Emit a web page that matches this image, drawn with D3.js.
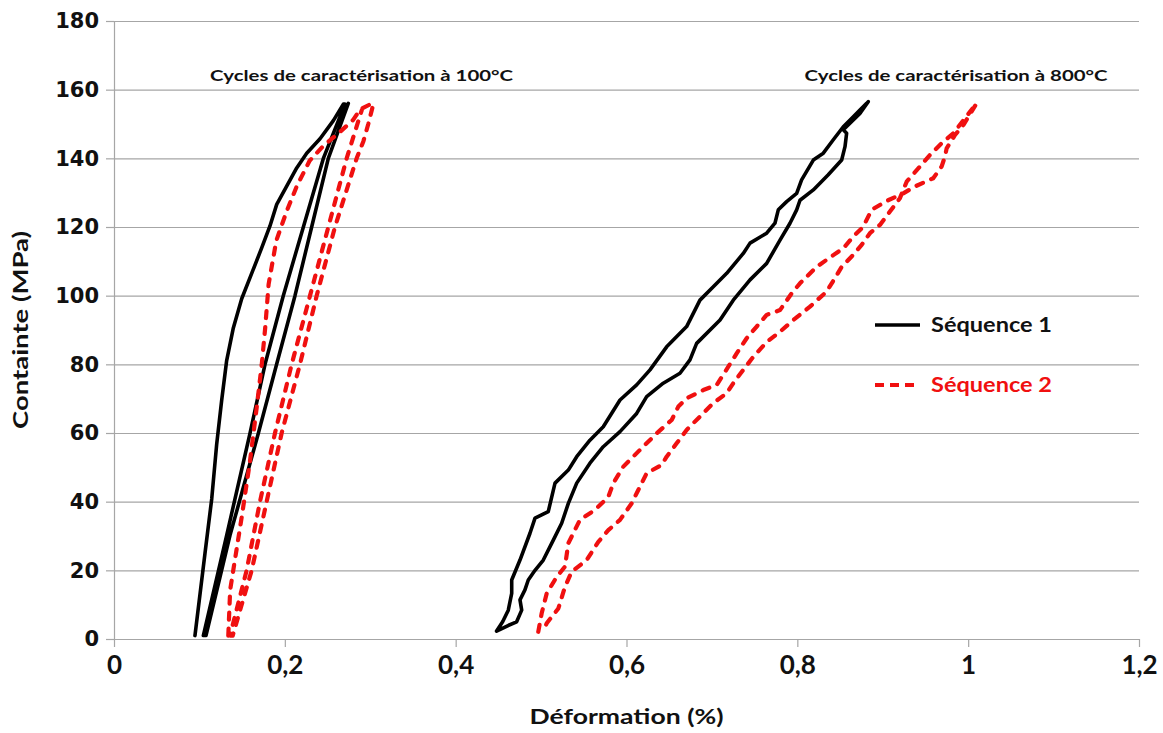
<!DOCTYPE html>
<html>
<head>
<meta charset="utf-8">
<script src="https://cdn.jsdelivr.net/npm/d3@7"></script>
<style>
  body { margin: 0; background: #fff; }
  svg { display: block; }
</style>
</head>
<body>
<div id="chart"></div>
<script>
var w = 1163;
var h = 733;

// axis ticks
var xTicks = [0, 0.2, 0.4, 0.6, 0.8, 1, 1.2];
var yTicks = [0, 20, 40, 60, 80, 100, 120, 140, 160, 180];

// [strain %, stress MPa]
// Sequence 1, cycles at 100°C
var seq1Cycle100 = [
  [0.0948, 1], [0.1065, 24.9], [0.1144, 40.8], [0.1202, 56.7], [0.126, 69.4], [0.1319, 81.1],
  [0.1397, 90.6], [0.1495, 99.1], [0.1612, 106.5], [0.1729, 113.9], [0.1826, 120.3], [0.1905, 126.6],
  [0.2022, 131.9], [0.2139, 137.2], [0.2256, 141.5], [0.2412, 145.7], [0.2568, 151], [0.2685, 155.8],
  [0.2704, 155.8], [0.245, 139.9], [0.2217, 120], [0.1982, 100], [0.1768, 80], [0.1592, 59.9],
  [0.1319, 30.2], [0.1046, 1],
  [0.1077, 1], [0.1358, 30.2], [0.169, 59.9], [0.1904, 80], [0.2119, 100], [0.2314, 120],
  [0.2509, 140], [0.2743, 156]
];

// Sequence 2, cycles at 100°C
var seq2Cycle100 = [
  [0.1338, 1], [0.136, 14.3], [0.1495, 35.5], [0.159, 51.4], [0.167, 67.3], [0.173, 80], [0.177, 90.6],
  [0.181, 103.3], [0.19, 116], [0.202, 124.5], [0.214, 131.9], [0.229, 139.3], [0.245, 143.6],
  [0.265, 147.8], [0.28, 151.2], [0.288, 154.2], [0.302, 156],
  [0.3036, 155.8], [0.2977, 150], [0.292, 145], [0.2841, 140], [0.2587, 120], [0.2373, 100],
  [0.2177, 80], [0.1963, 60], [0.1787, 40], [0.1612, 20], [0.139, 1],
  [0.1358, 1], [0.1553, 20], [0.1709, 40], [0.1885, 60], [0.208, 80], [0.2295, 100], [0.2509, 120],
  [0.2724, 140], [0.29, 154]
];

// Sequence 1, cycles at 800°C
var seq1Cycle800 = [
  [0.4479, 2.3], [0.455, 5], [0.4616, 8.4], [0.4656, 13.3], [0.4656, 17.2], [0.4753, 23], [0.487, 30.8],
  [0.4929, 35.2], [0.5084, 37.1], [0.5163, 45.4], [0.5319, 49.2], [0.5417, 53.1], [0.5572, 57.9],
  [0.5728, 61.8], [0.5924, 69.6], [0.6119, 74], [0.6275, 78.4], [0.647, 85.1], [0.6704, 91],
  [0.686, 98.7], [0.7016, 102.6], [0.7173, 106.5], [0.7367, 112.3], [0.7446, 115.3], [0.7641, 118.2],
  [0.7738, 121.1], [0.7777, 125], [0.7875, 127.4], [0.7992, 129.8], [0.805, 133.7], [0.8187, 139.5],
  [0.8304, 141.5], [0.8421, 145.4], [0.8538, 149.2], [0.8655, 152.1], [0.8753, 154.6], [0.8811, 156],
  [0.883, 156.5], [0.8733, 153.1], [0.8616, 150.2], [0.8538, 148.3], [0.8577, 147.3], [0.8558, 143.4],
  [0.8519, 139.5], [0.8362, 135.2], [0.8187, 130.8], [0.8031, 127.8], [0.7992, 125], [0.7914, 121.1],
  [0.7797, 116.2], [0.7641, 109.4], [0.7446, 104.6], [0.725, 98.7], [0.7095, 92.9], [0.6821, 86.1],
  [0.6743, 81.3], [0.6626, 77.4], [0.643, 74.5], [0.6236, 70.6], [0.6119, 65.7], [0.5924, 60.4],
  [0.5728, 56], [0.5572, 51.2], [0.5417, 45.4], [0.5319, 39.5], [0.5241, 33.7], [0.5143, 28.8],
  [0.5026, 23], [0.4929, 20], [0.485, 17.2], [0.4811, 14.3], [0.4753, 11.4], [0.4773, 8.4],
  [0.4714, 5], [0.462, 4], [0.4479, 2.3]
];

// Sequence 2, cycles at 800°C
var seq2Cycle800 = [
  [0.4967, 2.1], [0.5007, 7.5], [0.5066, 13.3], [0.5183, 18.1], [0.528, 21.1], [0.5319, 27.9],
  [0.5455, 34.7], [0.5631, 37.6], [0.5787, 41.4], [0.5846, 45.4], [0.5963, 50.2], [0.6158, 55.1],
  [0.6353, 59.9], [0.6529, 63.8], [0.6607, 67.7], [0.6704, 70.1], [0.6899, 72.5], [0.7056, 74],
  [0.7192, 79.3], [0.729, 83.2], [0.7407, 87.6], [0.7524, 91], [0.7641, 94.4], [0.7797, 95.8],
  [0.7934, 100.7], [0.8031, 103.6], [0.8226, 108.4], [0.8421, 111.8], [0.8538, 113.8], [0.8655, 117.2],
  [0.8772, 120.1], [0.887, 125], [0.9046, 127.6], [0.924, 129.8], [0.9377, 131.8], [0.9591, 134.2],
  [0.9689, 137.6], [0.9728, 140.5], [0.9748, 142.9], [0.9846, 146.8], [0.9943, 149.7], [1.0099, 156],
  [0.9963, 151.7], [0.9826, 147.3], [0.9689, 144.4], [0.9553, 141], [0.9435, 137.6], [0.928, 133.2],
  [0.9201, 128.4], [0.9084, 124.5], [0.8967, 120.6], [0.885, 118.2], [0.8753, 114.8], [0.8636, 111.4],
  [0.8519, 108.4], [0.844, 105.1], [0.8343, 101.2], [0.8148, 96.8], [0.7953, 92.9], [0.7797, 89.5],
  [0.7641, 86.5], [0.7485, 82.2], [0.7367, 78.4], [0.725, 74.5], [0.7173, 71.6], [0.7016, 68.7],
  [0.686, 64.8], [0.6704, 60.9], [0.6587, 57], [0.647, 53.1], [0.6412, 50.7], [0.6236, 48.3],
  [0.6138, 43.4], [0.606, 39.5], [0.5924, 34.7], [0.5787, 31.7], [0.567, 28.3], [0.5534, 23],
  [0.5358, 19.6], [0.528, 15.2], [0.5202, 8.9], [0.5066, 4.6], [0.5026, 2.1]
];

var seriesNames = ['Séquence 1', 'Séquence 2'];
var cycleTitles = ['Cycles de caractérisation à 100°C', 'Cycles de caractérisation à 800°C'];

var black = '#000000';
var red = '#f01010';
var grey = '#a6a6a6';
var calibriLike = 'Lato, "Open Sans", sans-serif';

var svg = d3.select('#chart').append('svg')
  .attr('width', w)
  .attr('height', h);

svg.append('rect').attr('width', w).attr('height', h).attr('fill', '#fff');

var x = d3.scaleLinear().domain([0, 1.2]).range([114, 1139]);
var y = d3.scaleLinear().domain([0, 180]).range([639, 21]);

// horizontal gridlines
svg.append('g')
  .attr('transform', 'translate(114,0)')
  .call(d3.axisLeft(y).tickValues(yTicks).tickSize(-(x(1.2) - x(0))).tickFormat(''))
  .call(function(g) {
    g.select('.domain').remove();
    g.selectAll('line').attr('stroke', grey).attr('stroke-width', 1.2);
  });

// y axis
var yAxis = svg.append('g')
  .attr('transform', 'translate(114,0)')
  .call(d3.axisLeft(y).tickValues(yTicks).tickSize(8).tickSizeOuter(0).tickPadding(7));
yAxis.select('.domain').attr('stroke', grey).attr('stroke-width', 1.2);
yAxis.selectAll('line').attr('stroke', grey).attr('stroke-width', 1.2);
yAxis.selectAll('text')
  .attr('fill', '#111')
  .style('font-family', '"DejaVu Sans", Verdana, sans-serif')
  .style('font-weight', 'bold')
  .style('font-size', '21px');

// x axis
var xAxis = svg.append('g')
  .attr('transform', 'translate(0,' + y(0) + ')')
  .call(d3.axisBottom(x).tickValues(xTicks).tickSize(8).tickSizeOuter(0).tickPadding(9)
    .tickFormat(function(d) { return d3.format('~g')(d).replace('.', ','); }));
xAxis.select('.domain').attr('stroke', grey).attr('stroke-width', 1.2);
xAxis.selectAll('line').attr('stroke', grey).attr('stroke-width', 1.2);
xAxis.selectAll('text')
  .attr('fill', '#111')
  .style('font-family', calibriLike)
  .style('font-weight', 'bold')
  .style('font-size', '26px');

// axis titles
svg.append('text')
  .attr('transform', 'translate(28,' + y(90) + ') rotate(-90)')
  .attr('text-anchor', 'middle')
  .attr('textLength', 198)
  .attr('lengthAdjust', 'spacingAndGlyphs')
  .style('font-family', calibriLike)
  .style('font-weight', 'bold')
  .style('font-size', '21px')
  .attr('fill', '#111')
  .text('Containte (MPa)');

svg.append('text')
  .attr('x', x(0.6))
  .attr('y', 724)
  .attr('text-anchor', 'middle')
  .attr('textLength', 194)
  .attr('lengthAdjust', 'spacingAndGlyphs')
  .style('font-family', calibriLike)
  .style('font-weight', 'bold')
  .style('font-size', '21px')
  .attr('fill', '#111')
  .text('Déformation (%)');

// curves
var line = d3.line()
  .x(function(d) { return x(d[0]); })
  .y(function(d) { return y(d[1]); });

var curves = [
  { data: seq1Cycle100, seq: 0 },
  { data: seq1Cycle800, seq: 0 },
  { data: seq2Cycle100, seq: 1 },
  { data: seq2Cycle800, seq: 1 }
];

svg.append('g').selectAll('path')
  .data(curves)
  .enter()
  .append('path')
  .attr('d', function(d) { return line(d.data); })
  .attr('fill', 'none')
  .attr('stroke', function(d) { return d.seq == 0 ? black : red; })
  .attr('stroke-width', function(d) { return d.seq == 0 ? 3.6 : 4.2; })
  .attr('stroke-linejoin', 'round')
  .attr('stroke-linecap', 'round')
  .attr('stroke-dasharray', function(d) { return d.seq == 0 ? null : '7,9'; });

// cycle titles
var titleX = [0.1125, 0.8085];
svg.append('g').selectAll('text')
  .data(cycleTitles)
  .enter()
  .append('text')
  .attr('x', function(d, i) { return x(titleX[i]); })
  .attr('y', 81)
  .attr('textLength', 303)
  .attr('lengthAdjust', 'spacingAndGlyphs')
  .style('font-family', calibriLike)
  .style('font-weight', 'bold')
  .style('font-size', '16px')
  .attr('fill', '#111')
  .text(function(d) { return d; });

// legend
var legend = svg.append('g').selectAll('g')
  .data(seriesNames)
  .enter()
  .append('g')
  .attr('transform', function(d, i) { return 'translate(875,' + (325 + i * 60) + ')'; });

legend.append('line')
  .attr('x1', 0).attr('x2', 45)
  .attr('stroke', function(d, i) { return i == 0 ? black : red; })
  .attr('stroke-width', function(d, i) { return i == 0 ? 3.6 : 4.2; })
  .attr('stroke-dasharray', function(d, i) { return i == 0 ? null : '9,6'; });

legend.append('text')
  .attr('x', 56)
  .attr('y', 7)
  .attr('textLength', 121)
  .attr('lengthAdjust', 'spacingAndGlyphs')
  .style('font-family', calibriLike)
  .style('font-weight', 'bold')
  .style('font-size', '20px')
  .attr('fill', function(d, i) { return i == 0 ? '#111' : red; })
  .text(function(d) { return d; });
</script>
</body>
</html>
